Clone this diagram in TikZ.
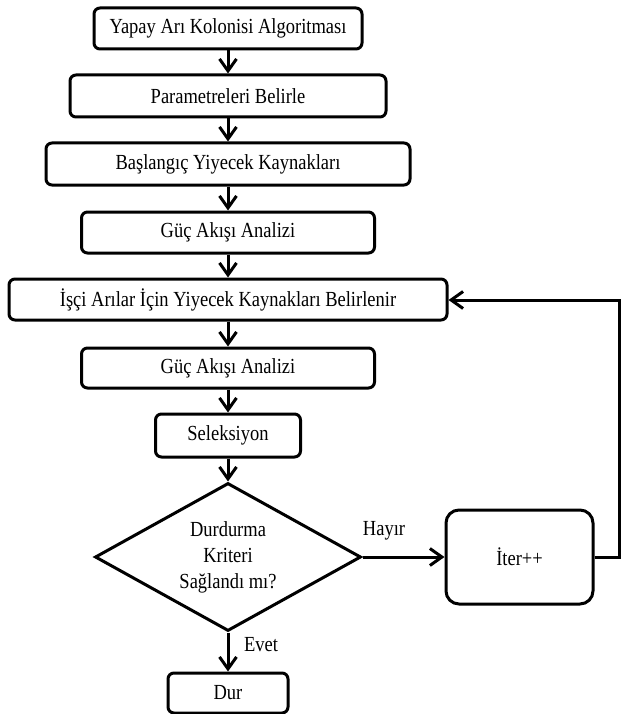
\documentclass[tikz,border=0pt]{standalone}
\usepackage{fontspec}
\setmainfont[FakeStretch=0.86]{Liberation Serif}
\usetikzlibrary{arrows.meta,shapes.geometric}
\begin{document}
\begin{tikzpicture}[x=1pt,y=-1pt,
  every node/.style={font=\fontsize{21.5}{26}\selectfont},
  procbox/.style={draw,line width=3pt,rounded corners=6pt,inner sep=0pt},
  decbox/.style={draw,diamond,line width=3pt,inner sep=0pt,shape aspect=1.8,align=center},
  flow/.style={line width=3pt,-{Straight Barb[length=12pt,width=17pt,line width=3pt]}},
  lbl/.style={inner sep=0pt}]
\useasboundingbox (0,0) rectangle (622,714);
\node[procbox,minimum width=268pt,minimum height=41pt] (b1) at (228,28.5) {Yapay Arı Kolonisi Algoritması};
\node[procbox,minimum width=316pt,minimum height=42pt] (b2) at (228,96) {Parametreleri Belirle};
\node[procbox,minimum width=364pt,minimum height=42pt] (b3) at (228,164) {Başlangıç Yiyecek Kaynakları};
\node[procbox,minimum width=293pt,minimum height=41pt] (b4) at (228,232.5) {Güç Akışı Analizi};
\node[procbox,minimum width=438pt,minimum height=41pt] (b5) at (228,299.5) {İşçi Arılar İçin Yiyecek Kaynakları Belirlenir};
\node[procbox,minimum width=293pt,minimum height=40pt] (b6) at (228,368) {Güç Akışı Analizi};
\node[procbox,minimum width=145pt,minimum height=43pt] (b7) at (228,435.5) {Seleksiyon};
\node[decbox,minimum width=266pt,minimum height=148pt] (dec) at (228,557) {Durdurma\\Kriteri\\Sağlandı mı?};
\node[procbox,rounded corners=13pt,minimum width=147pt,minimum height=94pt] (iter) at (519.5,557) {İter++};
\node[procbox,minimum width=120pt,minimum height=40pt] (dur) at (228,693) {Dur};
\coordinate (r1) at (619,557);
\coordinate (r2) at (619,300);
\draw[flow] (b1) -- (b2);
\draw[flow] (b2) -- (b3);
\draw[flow] (b3) -- (b4);
\draw[flow] (b4) -- (b5);
\draw[flow] (b5) -- (b6);
\draw[flow] (b6) -- (b7);
\draw[flow] (b7) -- (dec);
\draw[flow] (dec.east) -- (iter.west);
\draw[flow] (dec.south) -- (dur.north);
\draw[flow] (iter.east) -- (r1) -- (r2) -- (b5.east |- r2);
\node[lbl] (hay) at (384,531) {Hayır};
\node[lbl] (evt) at (261,645) {Evet};
\end{tikzpicture}
\end{document}
